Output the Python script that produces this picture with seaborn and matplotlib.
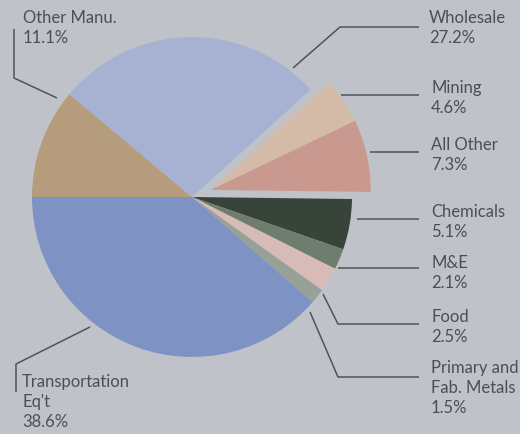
import matplotlib
matplotlib.use("Agg")
import matplotlib.pyplot as plt
import seaborn as sns
import numpy as np

# ---- data ----
categories = ["Other Manu.", "Wholesale", "Mining", "All Other", "Chemicals",
              "M&E", "Food", "Primary and\nFab. Metals", "Transportation\nEq't"]
shares = [11.1, 27.2, 4.6, 7.3, 5.1, 2.1, 2.5, 1.5, 38.6]
colors = ["#b49c7c", "#a7b2d3", "#d3bba7", "#c9998f", "#38433a",
          "#6f7d6f", "#d8bbb6", "#97a197", "#7e93c4"]
exploded = ["Mining", "All Other"]

# ---- layout (pixels, y measured from top) ----
W, H = 520, 435
CX, CY, R = 192, 198, 160
EXPLODE_PX = 20
BG = "#bfc3c9"
INK = "#4b4f55"

# label anchor (left, top) and leader polyline per category
label_pos = {
    "Other Manu.": (23, 10),
    "Wholesale": (429, 10),
    "Mining": (431, 80),
    "All Other": (431, 137),
    "Chemicals": (431, 204),
    "M&E": (431, 255),
    "Food": (431, 309),
    "Primary and\nFab. Metals": (431, 360),
    "Transportation\nEq't": (22, 374),
}
leaders = {
    "Other Manu.": [(57, 99), (14, 79), (14, 30)],
    "Wholesale": [(293, 69), (340, 28), (419, 28)],
    "Mining": [(341, 96), (419, 96)],
    "All Other": [(370, 153), (419, 153)],
    "Chemicals": [(357, 220), (419, 220)],
    "M&E": [(338, 269), (419, 269)],
    "Food": [(323, 295), (338, 325), (419, 325)],
    "Primary and\nFab. Metals": [(310, 313), (338, 378), (419, 378)],
    "Transportation\nEq't": [(90, 328), (16, 365), (16, 393)],
}

sns.set_theme(style="white")
plt.rcParams['font.family'] = ['Lato', 'DejaVu Sans']

fig = plt.figure(figsize=(W / 100, H / 100), dpi=100, facecolor=BG)
ax = fig.add_axes([0, 0, 1, 1])
ax.set_facecolor(BG)

wedges, _ = ax.pie(shares, colors=colors, startangle=180, counterclock=False,
                   center=(CX, H - CY), radius=R,
                   wedgeprops=dict(linewidth=0))

# shift the exploded group together along its common bisector
cum = np.cumsum([0] + shares)
idx = [categories.index(c) for c in exploded]
a_start = 180 - 3.6 * cum[min(idx)]
a_end = 180 - 3.6 * cum[max(idx) + 1]
mid = np.deg2rad((a_start + a_end) / 2)
for i in idx:
    wedges[i].set_center((CX + EXPLODE_PX * np.cos(mid),
                          H - CY + EXPLODE_PX * np.sin(mid)))

for cat, share in zip(categories, shares):
    x, y = label_pos[cat]
    ax.text(x, H - y, f"{cat}\n{share}%", ha="left", va="top",
            fontsize=12, color=INK, linespacing=1.3)
    pts = leaders[cat]
    ax.plot([p[0] for p in pts], [H - p[1] for p in pts],
            color="#50545a", lw=1.1, solid_capstyle="butt")

ax.set_xlim(0, W)
ax.set_ylim(0, H)
ax.set_aspect("equal")
ax.axis("off")

fig.savefig("out.png", dpi=100, facecolor=BG)
